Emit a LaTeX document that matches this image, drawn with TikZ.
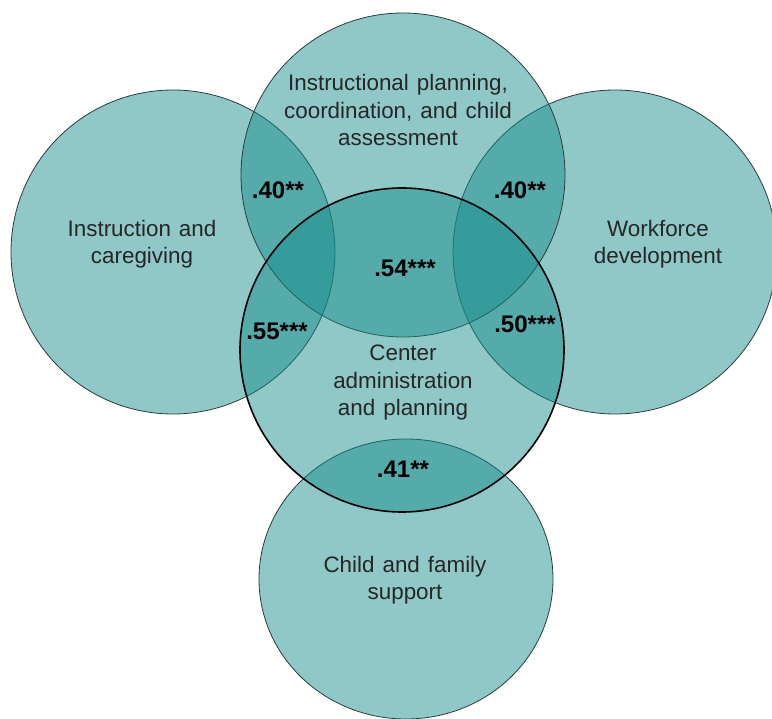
\documentclass[tikz,border=0pt]{standalone}
\usepackage{fontspec}
\setmainfont{Liberation Sans}
\usepackage{xcolor}
\usetikzlibrary{shapes.geometric, positioning}
\definecolor{venn}{RGB}{20,140,138}
\definecolor{rim}{RGB}{40,60,60}
\newcommand\vennlabelfont{\fontsize{22.4}{27.5}\selectfont\spaceskip=8pt plus 1pt\relax}

\begin{document}
\begin{tikzpicture}[
    x=1pt, y=-1pt,
    area/.style={circle, minimum size=324pt, inner sep=0pt, fill=venn, fill opacity=0.48, draw=rim, line width=0.8pt},
    core/.style={area, draw=black, line width=1.6pt},
    label/.style={align=center, text=black!85, font=\vennlabelfont},
    value/.style={text=black, font=\fontsize{24}{28}\selectfont\bfseries}
]
\useasboundingbox (0,0) rectangle (772,719);

% Circles
\node (care) [area] at (173,252) {};
\node (work) [area] at (615,252) {};
\node (plan) [area] at (403,175) {};
\node (child) [area, ellipse, minimum width=294pt, minimum height=280pt] at (406,579) {};
\node (admin) [core] at (402,350) {};

% Labels
\node (caretxt) [label] at (142,244) {Instruction and\\caregiving};
\node (plantxt) [label] at (398,110) {Instructional planning,\\coordination, and child\\assessment};
\node (worktxt) [label] at (658,244) {Workforce\\development};
\node (admintxt) [label] at (403,383) {Center\\administration\\and planning};
\node (childtxt) [label] at (405,580) {Child and family\\support};

% Correlations
\node (careplan) [value] at (278,190) {.40**};
\node (workplan) [value] at (520,190) {.40**};
\node (planadmin) [value] at (405,268) {.54***};
\node (careadmin) [value] at (277,331) {.55***};
\node (workadmin) [value] at (525,324) {.50***};
\node (childadmin) [value] at (403,469) {.41**};

\end{tikzpicture}
\end{document}
